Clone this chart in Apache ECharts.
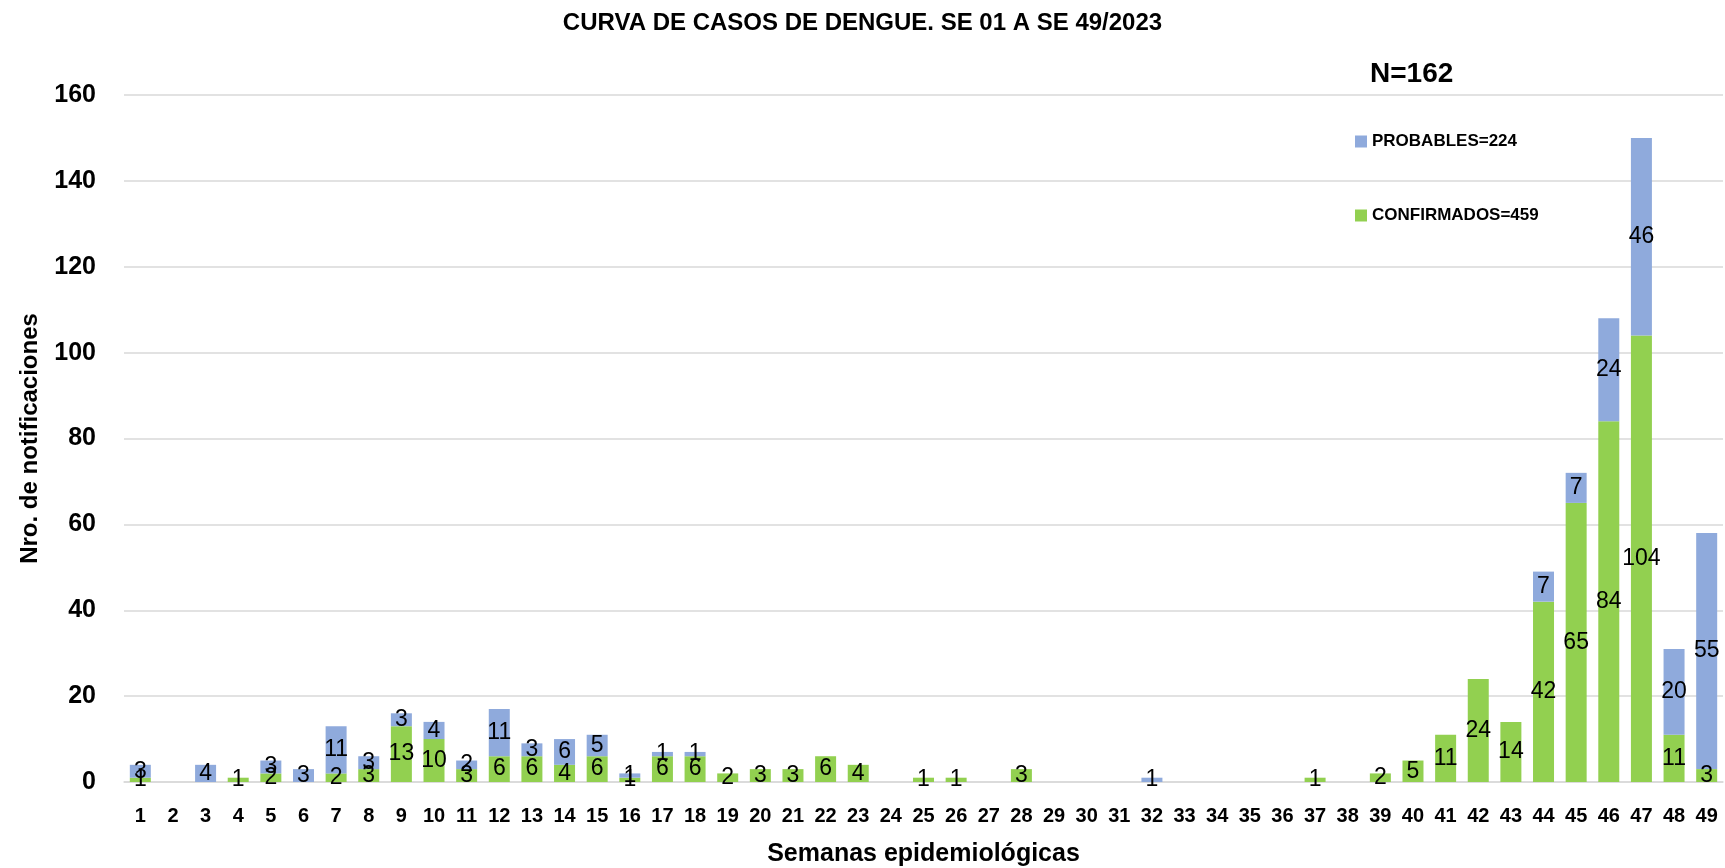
<!DOCTYPE html>
<html>
<head>
<meta charset="utf-8">
<script src="https://cdn.jsdelivr.net/npm/echarts@6/dist/echarts.min.js"></script>
<style>
  html, body { margin: 0; padding: 0; background: #fff; }
  #chart { width: 1725px; height: 868px; }
</style>
</head>
<body>
<div id="chart"></div>
<script>
var weeks = [];
for (var w = 1; w <= 49; w++) weeks.push(String(w));

// confirmed cases (green, bottom of stack)
var confirmados = [1, 0, 0, 1, 2, 0, 2, 3, 13, 10, 3, 6, 6, 4, 6, 1, 6, 6, 2, 3,
                   3, 6, 4, 0, 1, 1, 0, 3, 0, 0, 0, 0, 0, 0, 0, 0, 1, 0, 2, 5,
                   11, 24, 14, 42, 65, 84, 104, 11, 3];
// probable cases (blue, top of stack)
var probables = [3, 0, 4, 0, 3, 3, 11, 3, 3, 4, 2, 11, 3, 6, 5, 1, 1, 1, 0, 0,
                 0, 0, 0, 0, 0, 0, 0, 0, 0, 0, 0, 1, 0, 0, 0, 0, 0, 0, 0, 0,
                 0, 0, 0, 7, 7, 24, 46, 20, 55];

var yTicks = { min: 0, max: 160, interval: 20 };
var names = { conf: 'CONFIRMADOS=459', prob: 'PROBABLES=224' };

(function() {
    var el = document.getElementById('chart');
    var chart = echarts.init(el, null, { renderer: 'canvas' });
    var font = '"Liberation Sans", Arial, sans-serif';
    var grey = '#D9D9D9';

    var label = {
        show: true,
        position: 'inside',
        color: '#000',
        fontSize: 23,
        fontFamily: font,
        formatter: function(p) { return p.value ? p.value : ''; }
    };

    chart.setOption({
        animation: false,
        textStyle: { fontFamily: font },
        title: [
            {
                text: 'CURVA DE CASOS DE DENGUE. SE 01 A SE 49/2023',
                left: 'center',
                top: 6,
                textStyle: { fontSize: 24, fontWeight: 'bold', color: '#000', fontFamily: font }
            },
            {
                text: 'N=162',
                left: 1365,
                top: 55,
                textStyle: { fontSize: 28, fontWeight: 'bold', color: '#000', fontFamily: font }
            }
        ],
        legend: {
            data: [names.prob, names.conf],
            orient: 'vertical',
            left: 1350,
            top: 128,
            itemWidth: 12,
            itemHeight: 12,
            itemGap: 57,
            icon: 'rect',
            textStyle: { fontSize: 17, fontWeight: 'bold', color: '#000', fontFamily: font }
        },
        grid: { left: 124, right: 2, top: 95, bottom: 86, outerBoundsMode: 'none' },
        xAxis: {
            type: 'category',
            data: weeks,
            name: 'Semanas epidemiológicas',
            nameLocation: 'middle',
            nameGap: 60,
            nameTextStyle: { fontSize: 25, fontWeight: 'bold', color: '#000' },
            axisLine: { lineStyle: { color: grey, width: 1.5 } },
            axisTick: { show: false },
            axisLabel: { interval: 0, margin: 24, fontSize: 20, fontWeight: 'bold', color: '#000' }
        },
        yAxis: {
            type: 'value',
            min: yTicks.min,
            max: yTicks.max,
            interval: yTicks.interval,
            name: 'Nro. de notificaciones',
            nameLocation: 'middle',
            nameGap: 82,
            nameTextStyle: { fontSize: 24, fontWeight: 'bold', color: '#000' },
            axisLine: { show: false },
            axisTick: { show: false },
            axisLabel: { margin: 28, fontSize: 25, fontWeight: 'bold', color: '#000' },
            splitLine: { lineStyle: { color: grey, width: 1.5 } }
        },
        series: [
            {
                name: names.conf,
                type: 'bar',
                stack: 'total',
                barWidth: 21,
                itemStyle: { color: '#92D050' },
                label: label,
                data: confirmados
            },
            {
                name: names.prob,
                type: 'bar',
                stack: 'total',
                barWidth: 21,
                itemStyle: { color: '#8FAADC' },
                label: label,
                data: probables
            }
        ]
    });

    window.addEventListener('resize', function() { chart.resize(); });
})();
</script>
</body>
</html>
